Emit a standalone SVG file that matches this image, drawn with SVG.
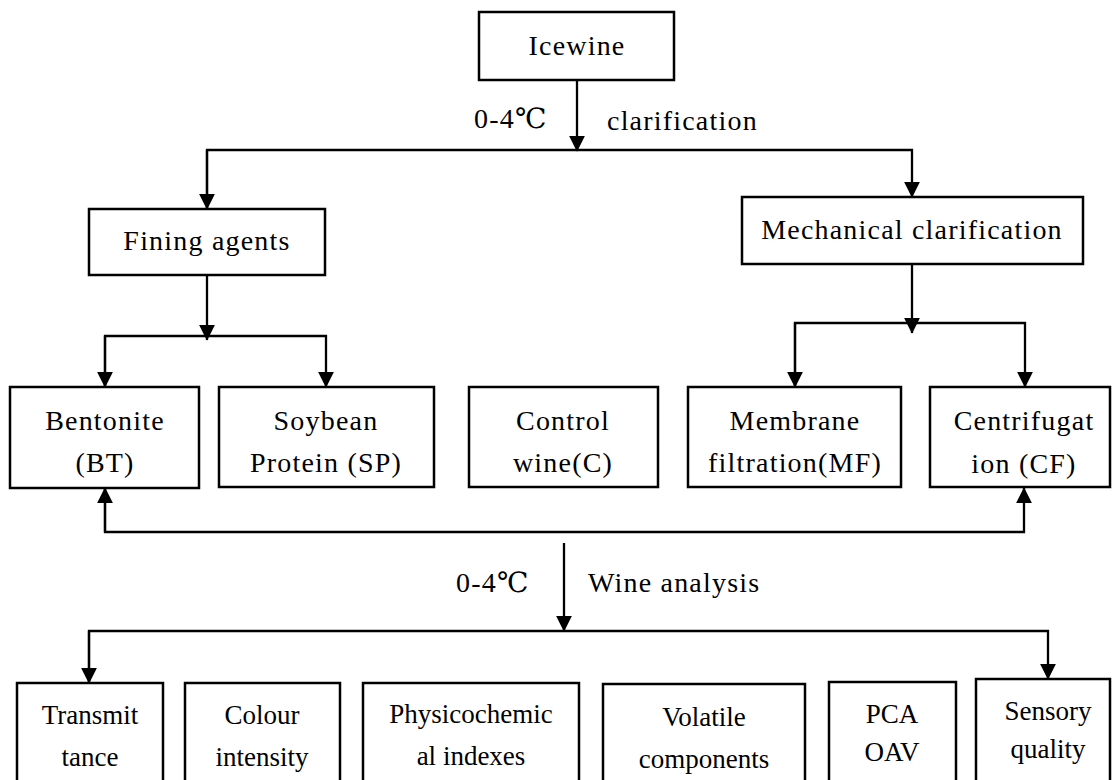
<svg xmlns="http://www.w3.org/2000/svg" width="1114" height="780" viewBox="0 0 1114 780">
<style>
.box{fill:#fff;stroke:#000;stroke-width:2.5}
.ln{fill:none;stroke:#000;stroke-width:2.3}
.p{font-family:"Liberation Serif","DejaVu Serif","Noto Sans CJK SC",serif;font-size:28px;letter-spacing:1.2px;fill:#000;text-anchor:middle}
.t{font-family:"Liberation Serif","DejaVu Serif","Noto Sans CJK SC",serif;font-size:27px;fill:#000;text-anchor:middle}
.l{text-anchor:start}
</style>
<defs>
<marker id="ar" viewBox="0 0 10 10" refX="9.5" refY="5" markerWidth="16" markerHeight="16" markerUnits="userSpaceOnUse" orient="auto">
<path d="M0,0 L10,5 L0,10 z" fill="#000"/>
</marker>
</defs>
<rect width="1114" height="780" fill="#fff"/>
<g id="connectors">
<path class="ln" d="M577,80 V151" marker-end="url(#ar)"/>
<path class="ln" d="M207,209 V150 H912 V197" marker-end="url(#ar)"/>
<path class="ln" d="M207,150 V209" marker-end="url(#ar)"/>
<path class="ln" d="M207,275 V340" marker-end="url(#ar)"/>
<path class="ln" d="M105,387 V336 H326 V387" marker-end="url(#ar)"/>
<path class="ln" d="M105,336 V387" marker-end="url(#ar)"/>
<path class="ln" d="M912,264 V333" marker-end="url(#ar)"/>
<path class="ln" d="M795,387 V323 H1025 V387" marker-end="url(#ar)"/>
<path class="ln" d="M795,323 V387" marker-end="url(#ar)"/>
<path class="ln" d="M105,488 V532 H1024 V488" marker-end="url(#ar)"/>
<path class="ln" d="M105,532 V488" marker-end="url(#ar)"/>
<path class="ln" d="M564,543 V631" marker-end="url(#ar)"/>
<path class="ln" d="M89,683 V631 H1048 V679" marker-end="url(#ar)"/>
<path class="ln" d="M89,631 V683" marker-end="url(#ar)"/>
<text class="p l" x="474" y="128">0-4℃</text>
<text class="p l" x="607" y="130">clarification</text>
<text class="p l" x="456" y="592">0-4℃</text>
<text class="p l" x="588" y="592">Wine analysis</text>
</g>
<g id="icewine"><rect class="box" x="479" y="12" width="195" height="68"/><text class="p" x="577" y="55">Icewine</text></g>
<g id="fining"><rect class="box" x="89" y="209" width="236" height="66"/><text class="p" x="207" y="250">Fining agents</text></g>
<g id="mechanical"><rect class="box" x="742" y="197" width="341" height="67"/><text class="p" x="912" y="239">Mechanical clarification</text></g>
<g id="bentonite"><rect class="box" x="10" y="387" width="189" height="101"/><text class="p" x="105" y="430">Bentonite</text><text class="p" x="105" y="472">(BT)</text></g>
<g id="soybean"><rect class="box" x="219" y="387" width="215" height="100"/><text class="p" x="326" y="430">Soybean</text><text class="p" x="326" y="472">Protein (SP)</text></g>
<g id="control"><rect class="box" x="469" y="387" width="189" height="100"/><text class="p" x="563" y="430">Control</text><text class="p" x="563" y="472">wine(C)</text></g>
<g id="membrane"><rect class="box" x="688" y="387" width="213" height="100"/><text class="p" x="795" y="430">Membrane</text><text class="p" x="795" y="472">filtration(MF)</text></g>
<g id="centrifugation"><rect class="box" x="930" y="387" width="180" height="100"/><text class="p" x="1024" y="430">Centrifugat</text><text class="p" x="1024" y="473">ion (CF)</text></g>
<g id="transmittance"><rect class="box" x="17" y="683" width="146" height="110"/><text class="t" x="90" y="724">Transmit</text><text class="t" x="90" y="766">tance</text></g>
<g id="colour"><rect class="box" x="185" y="683" width="155" height="110"/><text class="t" x="262" y="724">Colour</text><text class="t" x="262" y="766">intensity</text></g>
<g id="physico"><rect class="box" x="363" y="683" width="216" height="110"/><text class="t" x="471" y="723">Physicochemic</text><text class="t" x="471" y="765">al indexes</text></g>
<g id="volatile"><rect class="box" x="603" y="684" width="202" height="110"/><text class="t" x="704" y="726">Volatile</text><text class="t" x="704" y="768">components</text></g>
<g id="pca"><rect class="box" x="829" y="682" width="127" height="110"/><text class="t" x="892" y="723">PCA</text><text class="t" x="892" y="761">OAV</text></g>
<g id="sensory"><rect class="box" x="976" y="679" width="134" height="110"/><text class="t" x="1048" y="720">Sensory</text><text class="t" x="1048" y="758">quality</text></g>
</svg>
